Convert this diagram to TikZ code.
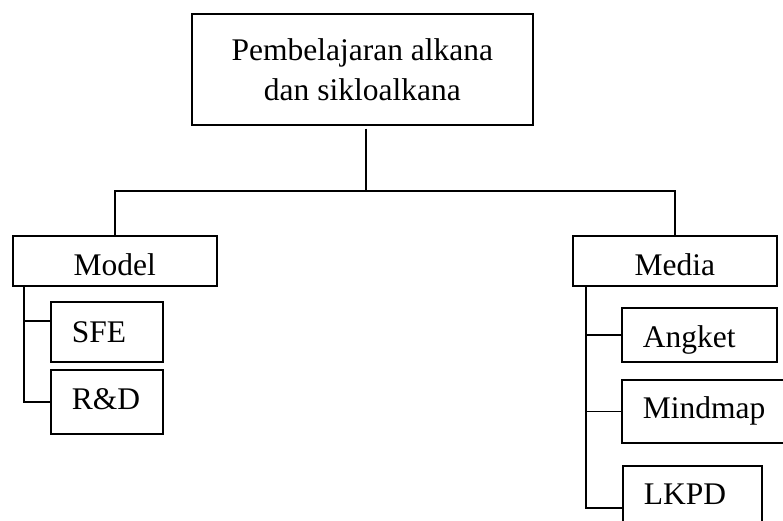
\documentclass[tikz,border=0pt]{standalone}
\usepackage{fontspec}
\setmainfont{Liberation Serif}
\usepackage{tikz}

\begin{document}
\begin{tikzpicture}[x=1pt,y=-1pt,
  box/.style={
    draw, line width=1.6pt,
    inner sep=0pt,
    font=\fontsize{31.5}{40}\selectfont,
  },
  leaf/.style={box, anchor=north west, inner xsep=21pt, align=left},
  link/.style={line width=1.6pt}]
  \useasboundingbox (0,0) rectangle (783,521);
  \clip (0,0) rectangle (783,521);
  \node[box, anchor=north west, align=center, minimum width=341pt, minimum height=111pt] (topic) at (191,13) {Pembelajaran alkana\\dan sikloalkana};
  \node[box, anchor=north west, minimum width=204pt, text height=40pt, text depth=10pt] (model) at (12,235) {Model};
  \node[box, anchor=north west, minimum width=204pt, text height=40pt, text depth=10pt] (media) at (572,235) {Media};
  \node[leaf, text width=70pt, text height=41pt, text depth=19pt] (sfe) at (50,301) {SFE};
  \node[leaf, text width=113pt, text height=40pt, text depth=14pt] (angket) at (621,307) {Angket};
  \node[leaf, text width=70pt, text height=40pt, text depth=24pt] (rd) at (50,369) {R\&D};
  \node[leaf, text width=128pt, text height=39pt, text depth=24pt] (mindmap) at (621,379) {Mindmap};
  \node[leaf, text width=97pt, text height=39pt, text depth=45pt] (lkpd) at (622,465) {LKPD};
  \coordinate (fork) at (366,191);
  \coordinate (mtrunk) at (24,285);
  \coordinate (dtrunk) at (586,285);
  \draw[link] (topic.south -| fork) ++(0,3) -- (fork);
  \draw[link] (model.north) |- (fork) -| (media.north);
  \draw[link] (mtrunk) |- (rd.west);
  \draw[link] ([yshift=11pt]sfe.west -| mtrunk) -- ([yshift=11pt]sfe.west);
  \draw[link] (dtrunk) |- (lkpd.west);
  \draw[link] (angket.west -| dtrunk) -- (angket.west);
  \draw[link] (mindmap.west -| dtrunk) -- (mindmap.west);
\end{tikzpicture}
\end{document}
